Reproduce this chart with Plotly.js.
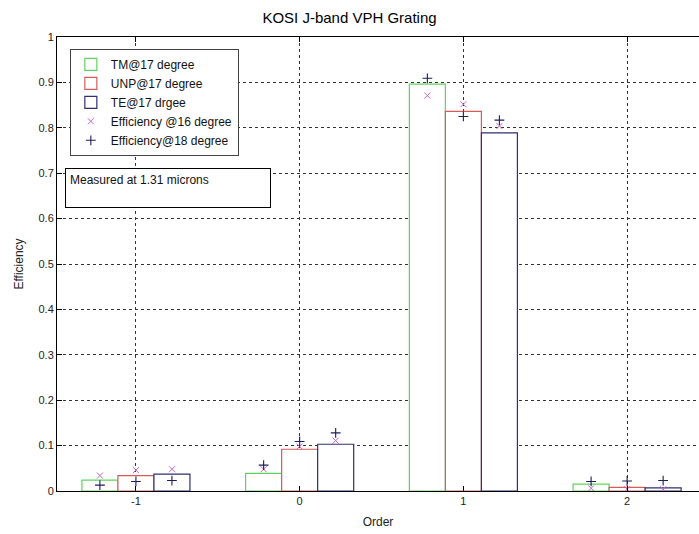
<!DOCTYPE html>
<html>
<head>
<meta charset="utf-8">
<script src="https://cdn.plot.ly/plotly-3.0.1.min.js"></script>
<style>html,body{margin:0;padding:0;overflow:hidden;background:#fff}</style>
</head>
<body>
<div id="chart" style="width:699px;height:534px"></div>
<script>
// ---- data ----
var orders = [-1, 0, 1, 2];
var tm17  = [0.024, 0.039, 0.896, 0.015];
var unp17 = [0.034, 0.092, 0.836, 0.008];
var te17  = [0.037, 0.103, 0.789, 0.007];
// efficiency @16 degree (x markers), per order: TM, UNP, TE
var eff16_tm  = [0.034, 0.048, 0.871, 0.006];
var eff16_unp = [0.046, 0.098, 0.852, 0.004];
var eff16_te  = [0.048, 0.111, 0.804, 0.004];
// efficiency @18 degree (+ markers), per order: TM, UNP, TE
var eff18_tm  = [0.013, 0.057, 0.909, 0.021];
var eff18_unp = [0.021, 0.109, 0.825, 0.022];
var eff18_te  = [0.023, 0.128, 0.817, 0.023];
var seriesNames = ['TM@17 degree', 'UNP@17 degree', 'TE@17 drgee', 'Efficiency @16 degree', 'Efficiency@18 degree'];
var yTicks = [0, 0.1, 0.2, 0.3, 0.4, 0.5, 0.6, 0.7, 0.8, 0.9, 1];
var xTicks = [-1, 0, 1, 2];

// ---- build ----
var barW = 0.22;
var offs = [-barW, 0, barW];
function shifted(off) { return orders.map(function (o) { return o + off; }); }
var px16 = [], py16 = [], px18 = [], py18 = [];
[[eff16_tm, eff18_tm], [eff16_unp, eff18_unp], [eff16_te, eff18_te]].forEach(function (pair, i) {
  var xs = shifted(offs[i]);
  xs.forEach(function (x, k) {
    px16.push(x); py16.push(pair[0][k]);
    px18.push(x); py18.push(pair[1][k]);
  });
});

var barColors = ['#5fd35f', '#d95a5a', '#2f2f78'];
var barData = [tm17, unp17, te17];
var traces = barData.map(function (vals, i) {
  return {
    type: 'bar', x: orders, y: vals, name: seriesNames[i],
    marker: { color: '#ffffff', line: { color: barColors[i], width: 1.2 } }
  };
});
traces.push({
  type: 'scatter', mode: 'markers', x: px16, y: py16, name: seriesNames[3],
  marker: { symbol: 'x-thin-open', size: 6, color: '#c766c7', line: { width: 1, color: '#c766c7' } }
});
traces.push({
  type: 'scatter', mode: 'markers', x: px18, y: py18, name: seriesNames[4],
  marker: { symbol: 'cross-thin-open', size: 7, color: '#1c1c5e', line: { width: 1.1, color: '#1c1c5e' } }
});

var font = 'Liberation Sans, Arial, sans-serif';
var layout = {
  width: 699, height: 534,
  margin: { l: 57, r: 0, t: 37, b: 43 },
  paper_bgcolor: '#fff', plot_bgcolor: '#fff',
  font: { family: font, size: 11, color: '#222' },
  title: { text: 'KOSI J-band VPH Grating', font: { family: font, size: 15, color: '#000' },
           x: 0.5, xref: 'container', y: 0.966, yanchor: 'middle' },
  barmode: 'group', bargap: 0.34, bargroupgap: 0,
  xaxis: {
    range: [-1.482, 2.439], tickvals: xTicks, ticktext: xTicks.map(String),
    showline: true, linecolor: '#000', linewidth: 1, mirror: 'allticks',
    ticks: 'inside', ticklen: 5, tickcolor: '#000',
    showgrid: true, gridcolor: '#333', griddash: 'dot', gridwidth: 1, zeroline: false,
    title: { text: 'Order', font: { family: font, size: 12, color: '#222' }, standoff: 11 }
  },
  yaxis: {
    range: [0, 1], tickvals: yTicks, ticktext: yTicks.map(String),
    showline: true, linecolor: '#000', linewidth: 1,
    ticks: 'inside', ticklen: 5, tickcolor: '#000',
    showgrid: true, gridcolor: '#333', griddash: 'dot', gridwidth: 1, zeroline: false,
    title: { text: 'Efficiency', font: { family: font, size: 12, color: '#222' }, standoff: 12 }
  },
  showlegend: true,
  legend: {
    x: 0.02, y: 0.974, xanchor: 'left', yanchor: 'top',
    bgcolor: '#fff', bordercolor: '#444', borderwidth: 1,
    font: { family: font, size: 12, color: '#111' },
    tracegroupgap: 0, itemwidth: 30
  },
  annotations: [{
    xref: 'paper', yref: 'paper', x: 0.0125, y: 0.711, xanchor: 'left', yanchor: 'top',
    text: 'Measured at 1.31 microns', showarrow: false, align: 'left', valign: 'top',
    width: 196, height: 30, borderpad: 4, bordercolor: '#000', borderwidth: 1, bgcolor: '#fff',
    font: { family: font, size: 12, color: '#111' }
  }]
};
Plotly.newPlot('chart', traces, layout, { displayModeBar: false, staticPlot: true });
</script>
</body>
</html>
